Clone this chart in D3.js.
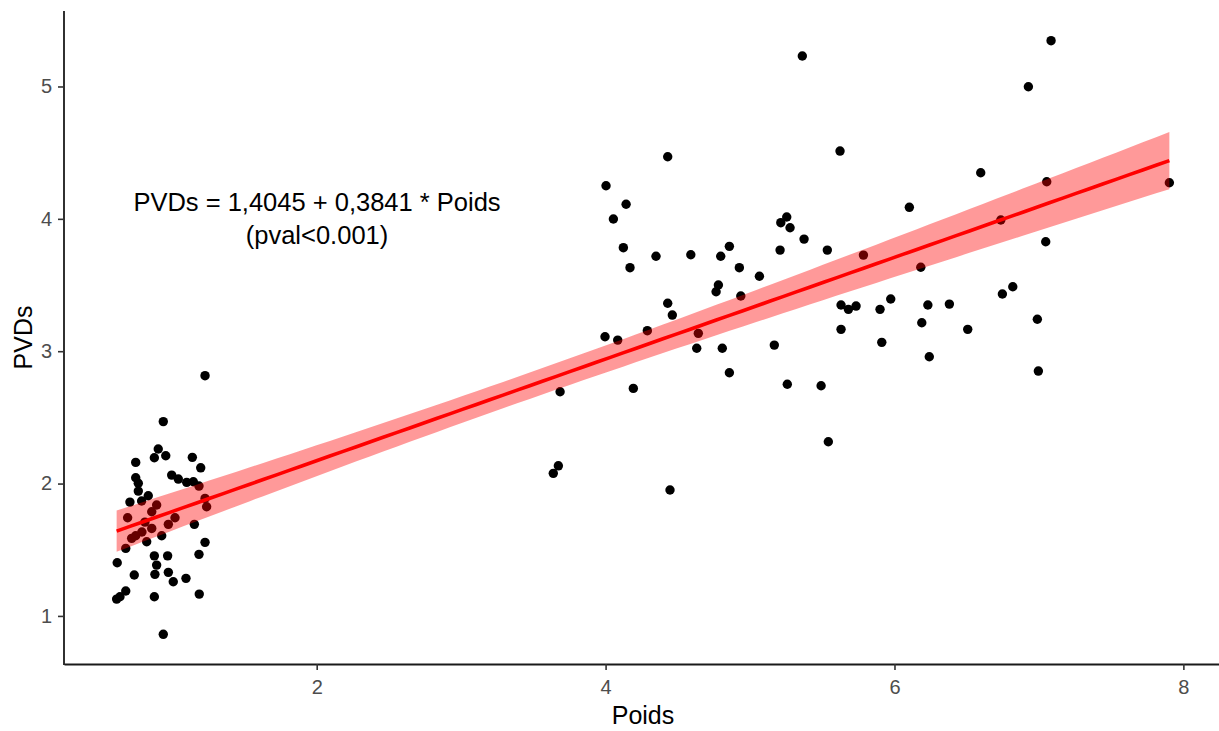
<!DOCTYPE html>
<html><head><meta charset="utf-8">
<script src="https://cdn.jsdelivr.net/npm/d3@7"></script>
<style>body{margin:0;background:#fff} svg{display:block}</style>
</head><body>
<svg id="chart" width="1219" height="731"></svg>
<script>
// ---- data ----
const poids = [
  1.227,0.938,0.903,0.876,0.955,0.747,1.139,1.197,0.747,0.765,0.765,0.996,1.042,1.100,1.146,1.185,0.834,0.707,0.788,0.892,
  1.227,1.238,0.691,0.858,1.019,0.973,0.858,1.153,0.747,0.719,0.823,0.927,0.678,1.227,0.619,0.876,0.968,1.185,0.892,0.880,
  0.737,0.973,1.007,1.095,0.678,0.638,0.615,0.876,1.187,0.938,0.811,0.790,
  4.430,4.003,4.142,4.054,4.123,4.169,4.349,4.590,4.797,4.857,4.926,5.065,5.208,5.213,5.254,5.277,4.781,4.765,4.936,4.430,
  4.462,4.289,3.996,4.084,4.642,4.631,4.808,5.168,4.857,5.258,3.685,4.192,3.673,3.638,4.446,5.362,5.623,6.597,6.103,5.374,
  5.535,5.785,6.182,5.630,5.681,5.734,5.900,5.974,6.231,6.380,5.630,6.189,6.507,5.912,6.241,5.492,5.542,7.084,6.927,7.054,
  7.903,6.736,7.047,6.819,6.747,6.989,6.996
];
const pvds = [
  2.815,2.468,2.261,2.195,2.210,2.160,2.198,2.119,2.044,2.002,1.943,2.064,2.034,2.009,2.014,1.981,1.908,1.860,1.868,1.838,
  1.888,1.825,1.742,1.787,1.742,1.692,1.661,1.692,1.606,1.586,1.560,1.606,1.510,1.556,1.402,1.454,1.454,1.465,1.384,1.314,
  1.309,1.329,1.258,1.284,1.188,1.145,1.127,1.145,1.165,0.861,1.709,1.634,
  4.469,4.250,4.110,3.999,3.782,3.631,3.717,3.729,3.717,3.792,3.631,3.566,3.764,3.971,4.014,3.933,3.500,3.449,3.417,3.362,
  3.273,3.155,3.109,3.084,3.135,3.022,3.022,3.046,2.837,2.750,2.694,2.719,2.134,2.077,1.951,5.230,4.512,4.348,4.087,3.847,
  3.764,3.726,3.634,3.349,3.316,3.341,3.316,3.394,3.349,3.356,3.165,3.215,3.165,3.067,2.958,2.739,2.316,5.346,4.998,4.280,
  4.273,3.991,3.827,3.487,3.432,3.241,2.850
];
const xTickValues = [2, 4, 6, 8];
const yTickValues = [1, 2, 3, 4, 5];
const intercept = 1.4045;
const slope = 0.3841;
const tCrit = 1.981; // t(0.975, n-2)
const eqLines = ["PVDs = 1,4045 + 0,3841 * Poids", "(pval<0.001)"];
const xTitle = "Poids";
const yTitle = "PVDs";

// ---- layout ----
const FONT = "'Liberation Sans', Arial, sans-serif";
const plot = {left: 64, top: 11, right: 1222, bottom: 664};
const svg = d3.select("#chart");
function expand(ext) { const d = (ext[1] - ext[0]) * 0.05; return [ext[0] - d, ext[1] + d]; }
const x = d3.scaleLinear().domain(expand(d3.extent(poids))).range([plot.left, plot.right]);
const y = d3.scaleLinear().domain(expand(d3.extent(pvds))).range([plot.bottom, plot.top]);

const pts = poids.map((p, i) => ({x: p, y: pvds[i]}));

// points
svg.append("g").selectAll("circle").data(pts).join("circle")
  .attr("cx", d => x(d.x)).attr("cy", d => y(d.y)).attr("r", 4.7).attr("fill", "#000");

// regression band (lm confidence interval)
const n = pts.length;
const xbar = d3.mean(poids);
const sxx = d3.sum(poids, v => (v - xbar) ** 2);
const s = Math.sqrt(d3.sum(pts, d => (d.y - (intercept + slope * d.x)) ** 2) / (n - 2));
const [xmin, xmax] = d3.extent(poids);
const grid = d3.range(80).map(i => xmin + (xmax - xmin) * i / 79).map(v => {
  const fit = intercept + slope * v;
  const se = s * Math.sqrt(1 / n + (v - xbar) ** 2 / sxx);
  return {x: v, fit, lo: fit - tCrit * se, hi: fit + tCrit * se};
});
svg.append("path").datum(grid)
  .attr("d", d3.area().x(d => x(d.x)).y0(d => y(d.lo)).y1(d => y(d.hi)))
  .attr("fill", "#ff0000").attr("fill-opacity", 0.4);
svg.append("path").datum(grid)
  .attr("d", d3.line().x(d => x(d.x)).y(d => y(d.fit)))
  .attr("fill", "none").attr("stroke", "#ff0000").attr("stroke-width", 3.6);

// axes
const xAxis = svg.append("g").attr("transform", `translate(0,${plot.bottom})`)
  .call(d3.axisBottom(x).tickValues(xTickValues).tickFormat(d3.format("d")).tickSize(6).tickSizeOuter(0).tickPadding(10));
const yAxis = svg.append("g").attr("transform", `translate(${plot.left},0)`)
  .call(d3.axisLeft(y).tickValues(yTickValues).tickFormat(d3.format("d")).tickSize(6).tickSizeOuter(0).tickPadding(6));
[xAxis, yAxis].forEach(g => {
  g.select(".domain").attr("stroke", "#1a1a1a").attr("stroke-width", 1.8);
  g.selectAll(".tick line").attr("stroke", "#333").attr("stroke-width", 1.6);
  g.selectAll(".tick text").attr("fill", "#4d4d4d").style("font-family", FONT).style("font-size", "20px");
});
// make y-axis line reach the x-axis corner
yAxis.select(".domain").attr("d", `M0,${plot.top}V${plot.bottom + 0.9}`);

// axis titles
svg.append("text").attr("x", (plot.left + plot.right) / 2).attr("y", 724)
  .attr("text-anchor", "middle").style("font-family", FONT).style("font-size", "25px").attr("fill", "#000")
  .text(xTitle);
svg.append("text").attr("transform", `translate(32,${(plot.top + plot.bottom) / 2}) rotate(-90)`)
  .attr("text-anchor", "middle").style("font-family", FONT).style("font-size", "25px").attr("fill", "#000")
  .text(yTitle);

// annotation
svg.append("g").selectAll("text").data(eqLines).join("text")
  .attr("x", 317).attr("y", (d, i) => 211 + i * 33)
  .attr("text-anchor", "middle").style("font-family", FONT).style("font-size", "25.5px").attr("fill", "#000")
  .text(d => d);
</script>
</body></html>
